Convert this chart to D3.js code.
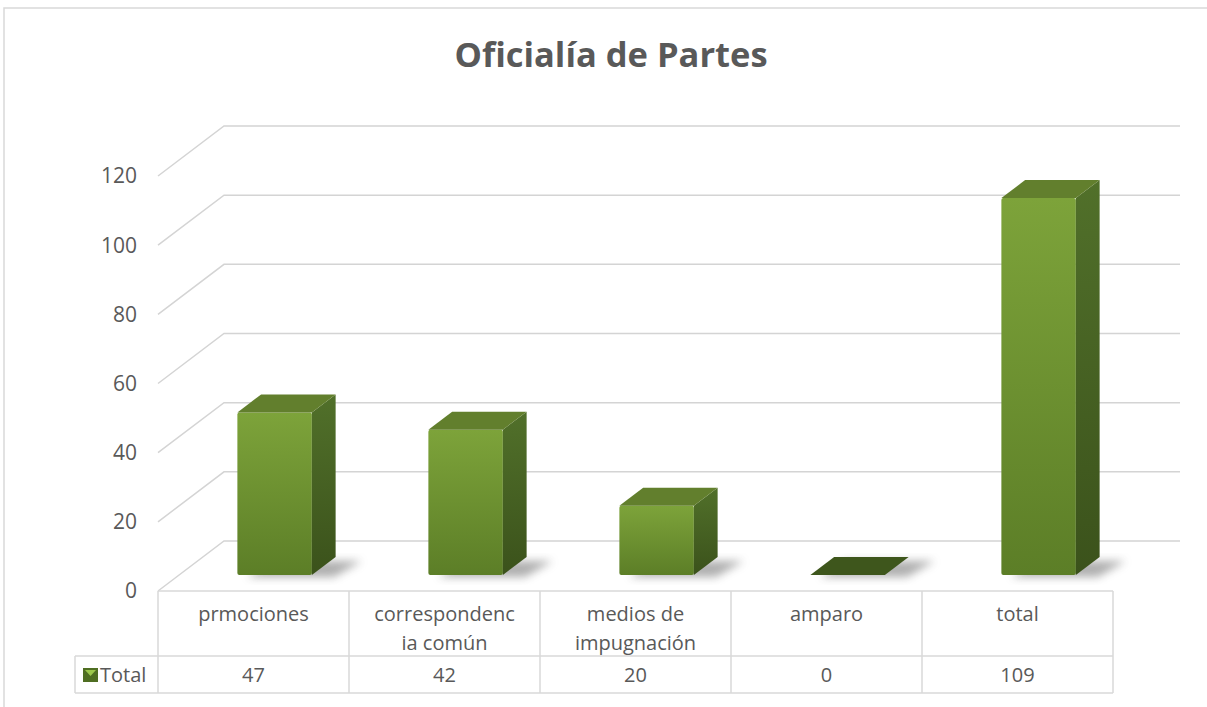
<!DOCTYPE html>
<html>
<head>
<meta charset="utf-8">
<script src="https://cdn.jsdelivr.net/npm/d3@7"></script>
<style>
  body { margin: 0; background: #fff; }
  svg text { font-family: "Open Sans", sans-serif; fill: #595959; }
</style>
</head>
<body>
<script>
// data
const categories = ["prmociones", "correspondencia común", "medios de impugnación", "amparo", "total"];
const categoryLines = [["prmociones"], ["correspondenc", "ia común"], ["medios de", "impugnación"], ["amparo"], ["total"]];
const values = [47, 42, 20, 0, 109];
const yTicks = [0, 20, 40, 60, 80, 100, 120];
const seriesName = "Total";
const title = "Oficialía de Partes";

const W = 1207, H = 707;

// 3d offset of the back wall
const DX = 66, DY = -50;
// depth range of the bars (fraction of the depth)
const f0 = 0.32, f1 = 0.68;

const svg = d3.select("body").append("svg")
    .attr("width", W)
    .attr("height", H);

const defs = svg.append("defs");

const front = defs.append("linearGradient").attr("id", "front")
    .attr("x1", 0).attr("y1", 0).attr("x2", 0).attr("y2", 1);
front.append("stop").attr("offset", "0%").attr("stop-color", "#7da33a");
front.append("stop").attr("offset", "100%").attr("stop-color", "#5c7e27");

const side = defs.append("linearGradient").attr("id", "side")
    .attr("x1", 0).attr("y1", 0).attr("x2", 0).attr("y2", 1);
side.append("stop").attr("offset", "0%").attr("stop-color", "#51702a");
side.append("stop").attr("offset", "100%").attr("stop-color", "#3b521b");

const blur = defs.append("filter").attr("id", "blur")
    .attr("x", "-50%").attr("y", "-50%").attr("width", "200%").attr("height", "200%");
blur.append("feGaussianBlur").attr("stdDeviation", 4);

// outer frame
svg.append("rect")
    .attr("x", 4).attr("y", 8)
    .attr("width", 1300).attr("height", 800)
    .attr("fill", "none")
    .attr("stroke", "#d9d9d9")
    .attr("stroke-width", 1.5);

// title
svg.append("text")
    .attr("x", 611)
    .attr("y", 67)
    .attr("text-anchor", "middle")
    .style("font-weight", "bold")
    .style("font-size", "34.5px")
    .text(title);

const x = d3.scaleBand()
    .domain(categories)
    .range([158, 1113]);

const y = d3.scaleLinear()
    .domain([0, 120])
    .range([591, 176]);

// gridlines: diagonal on the side wall + horizontal on the back wall
const grid = svg.append("g")
    .attr("fill", "none")
    .attr("stroke", "#d4d4d4")
    .attr("stroke-width", 1.5);

grid.selectAll("path")
    .data(yTicks)
    .join("path")
    .attr("d", d => `M${x.range()[0]},${y(d)} L${x.range()[0] + DX},${y(d) + DY} L1180,${y(d) + DY}`);

// y labels
svg.append("g")
    .selectAll("text")
    .data(yTicks)
    .join("text")
    .attr("x", 137)
    .attr("y", d => y(d))
    .attr("dy", "0.35em")
    .attr("text-anchor", "end")
    .style("font-size", "21px")
    .text(d => d);

// bars
const bw = x.bandwidth() * 0.39;
const ddx = (f1 - f0) * DX, ddy = (f1 - f0) * DY;

svg.append("g")
    .selectAll("g")
    .data(categories.map((c, i) => ({ cat: c, value: values[i] })))
    .join("g")
    .each(function(d) {
        const g = d3.select(this);
        const x0 = x(d.cat) + x.bandwidth() / 2 - bw / 2 + f0 * DX;
        const x1 = x0 + bw;
        const yb = y(0) + f0 * DY;
        const yt = y(d.value) + f0 * DY;

        // shadow on the floor
        g.append("path")
            .attr("d", `M${x0 + 10},${yb + 2} L${x1 + 22},${yb + 2} L${x1 + ddx + 26},${yb + ddy + 4} L${x0 + ddx + 10},${yb + ddy + 4} Z`)
            .attr("fill", "#6e6e6e")
            .attr("opacity", 0.55)
            .attr("filter", "url(#blur)");

        if (d.value > 0) {
            g.append("rect")
                .attr("x", x0)
                .attr("y", yt)
                .attr("width", bw)
                .attr("height", yb - yt)
                .attr("rx", 2)
                .attr("fill", "url(#front)");

            g.append("path")
                .attr("d", `M${x1},${yt} L${x1 + ddx},${yt + ddy} L${x1 + ddx},${yb + ddy} L${x1},${yb} Z`)
                .attr("fill", "url(#side)");
        }

        g.append("path")
            .attr("d", `M${x0},${yt} L${x1},${yt} L${x1 + ddx},${yt + ddy} L${x0 + ddx},${yt + ddy} Z`)
            .attr("fill", d.value > 0 ? "#627f2d" : "#3e561c");
    });

// data table
const rowTop = 591, rowMid = 656, rowBot = 693, legendLeft = 75;
const table = svg.append("g")
    .attr("stroke", "#d9d9d9")
    .attr("stroke-width", 1.5);

table.append("line")
    .attr("x1", x.range()[0]).attr("x2", x.range()[1])
    .attr("y1", rowTop).attr("y2", rowTop);
table.append("line")
    .attr("x1", legendLeft).attr("x2", x.range()[1])
    .attr("y1", rowMid).attr("y2", rowMid);
table.append("line")
    .attr("x1", legendLeft).attr("x2", x.range()[1])
    .attr("y1", rowBot).attr("y2", rowBot);
table.append("line")
    .attr("x1", legendLeft).attr("x2", legendLeft)
    .attr("y1", rowMid).attr("y2", rowBot);
table.selectAll("line.v")
    .data(categories.map(c => x(c)).concat([x.range()[1]]))
    .join("line")
    .attr("class", "v")
    .attr("x1", d => d).attr("x2", d => d)
    .attr("y1", rowTop).attr("y2", rowBot);

// category labels
const labels = svg.append("g")
    .selectAll("text")
    .data(categories)
    .join("text")
    .attr("x", d => x(d) + x.bandwidth() / 2)
    .attr("y", 621)
    .attr("text-anchor", "middle")
    .style("font-size", "20px");

labels.selectAll("tspan")
    .data((d, i) => categoryLines[i])
    .join("tspan")
    .attr("x", function() { return this.parentNode.getAttribute("x"); })
    .attr("dy", (d, i) => i === 0 ? 0 : 29)
    .text(d => d);

// values row
svg.append("g")
    .selectAll("text")
    .data(categories)
    .join("text")
    .attr("x", d => x(d) + x.bandwidth() / 2)
    .attr("y", 682)
    .attr("text-anchor", "middle")
    .style("font-size", "20px")
    .text((d, i) => values[i]);

// legend key
svg.append("rect")
    .attr("x", 83).attr("y", 668)
    .attr("width", 15).attr("height", 14)
    .attr("fill", "#4f6e22");
svg.append("path")
    .attr("d", "M85,670 L96,670 L90.5,676 Z")
    .attr("fill", "#9cc84c");
svg.append("text")
    .attr("x", 100)
    .attr("y", 682)
    .style("font-size", "20px")
    .text(seriesName);
</script>
</body>
</html>
